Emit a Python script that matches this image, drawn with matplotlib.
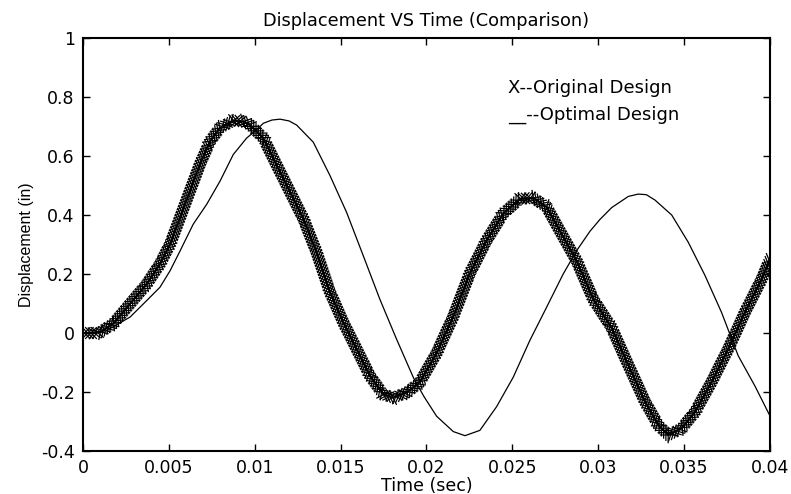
import numpy as np
import matplotlib.pyplot as plt
import matplotlib.patheffects as pe

# displacement vs time, original vs optimal design
t_orig = [0, 0.0005, 0.001, 0.00177, 0.00274, 0.00371, 0.00448, 0.00507, 0.00565, 0.00623,
          0.00681, 0.0074, 0.00798, 0.00875, 0.00933, 0.00972, 0.0105, 0.01128, 0.01205, 0.01283,
          0.0136, 0.01438, 0.01516, 0.01593, 0.01671, 0.01748, 0.01807, 0.01885, 0.0196, 0.02059,
          0.02156, 0.02253, 0.0235, 0.02447, 0.02544, 0.02622, 0.027, 0.02777, 0.02874, 0.02971,
          0.03078, 0.03175, 0.03272, 0.0335, 0.03408, 0.03486, 0.03563, 0.0366, 0.03757, 0.03854,
          0.03951, 0.04]
y_orig = [0, 0, 0.003, 0.032, 0.099, 0.166, 0.234, 0.301, 0.391, 0.482,
          0.572, 0.650, 0.696, 0.720, 0.717, 0.706, 0.661, 0.569, 0.479, 0.388,
          0.274, 0.139, 0.036, -0.054, -0.145, -0.208, -0.219, -0.202, -0.168, -0.068,
          0.056, 0.203, 0.314, 0.405, 0.455, 0.458, 0.427, 0.346, 0.245, 0.115,
          0.018, -0.108, -0.232, -0.312, -0.346, -0.323, -0.268, -0.166, -0.054, 0.070,
          0.182, 0.25]

t_opt = [0, 0.0006, 0.00138, 0.00274, 0.00371, 0.00448, 0.00507, 0.00565, 0.00642, 0.0072,
         0.00798, 0.00875, 0.00953, 0.01011, 0.0105, 0.0110, 0.01147, 0.0120, 0.01244, 0.01341,
         0.01438, 0.01535, 0.01632, 0.01729, 0.01826, 0.01923, 0.01985, 0.02059, 0.02156, 0.02224,
         0.02311, 0.02408, 0.02505, 0.02602, 0.027, 0.02796, 0.02874, 0.02952, 0.0301, 0.03078,
         0.03175, 0.03233, 0.0328, 0.0333, 0.03428, 0.03524, 0.03621, 0.03718, 0.03815, 0.03912,
         0.04]
y_opt = [0, 0, 0.009, 0.054, 0.110, 0.155, 0.211, 0.278, 0.369, 0.436,
         0.515, 0.605, 0.661, 0.689, 0.711, 0.722, 0.725, 0.719, 0.705, 0.647,
         0.534, 0.409, 0.262, 0.114, -0.021, -0.150, -0.215, -0.282, -0.334, -0.348,
         -0.330, -0.250, -0.150, -0.025, 0.088, 0.200, 0.279, 0.345, 0.385, 0.425,
         0.463, 0.471, 0.469, 0.451, 0.400, 0.308, 0.196, 0.070, -0.077, -0.179,
         -0.281]

xticks = [0, 0.005, 0.01, 0.015, 0.02, 0.025, 0.03, 0.035, 0.04]
xtick_labels = ['0', '0.005', '0.01', '0.015', '0.02', '0.025', '0.03', '0.035', '0.04']
yticks = [-0.4, -0.2, 0, 0.2, 0.4, 0.6, 0.8, 1]
ytick_labels = ['-0.4', '-0.2', '0', '0.2', '0.4', '0.6', '0.8', '1']
notes = ['X--Original Design', '__--Optimal Design']

plt.rcParams['font.family'] = ['DejaVu Sans']

fig = plt.figure(figsize=(7.91, 4.94), dpi=100)
ax = fig.add_axes([0.1049, 0.0870, 0.8685, 0.8360])

# original design: dense band of x marks along the curve
ax.plot(t_orig, y_orig, color='black', lw=1.2,
        path_effects=[pe.Normal()] + [pe.TickedStroke(spacing=2.3, angle=a, length=2.4, linewidth=0.9)
                                       for a in (45, 135, -45, -135)])
# optimal design: thin line
ax.plot(t_opt, y_opt, color='black', lw=0.9)

ax.set_xlim(0, 0.04)
ax.set_ylim(-0.4, 1)
ax.set_xticks(xticks)
ax.set_xticklabels(xtick_labels)
ax.set_yticks(yticks)
ax.set_yticklabels(ytick_labels)
ax.tick_params(direction='in', length=5, width=1, top=True, right=True, labelsize=12.5, pad=6)
for s in ax.spines.values():
    s.set_linewidth(1.5)

ax.set_title('Displacement VS Time (Comparison)', fontsize=12.8, pad=9)
ax.set_xlabel('Time (sec)', fontsize=12.5, labelpad=0)
ax.set_ylabel('Displacement (in)', fontsize=11.5, family=['Liberation Sans Narrow', 'Liberation Sans'],
              labelpad=5)

ax.text(0.619, 0.879, notes[0], transform=ax.transAxes, fontsize=13, va='center')
ax.text(0.619, 0.814, notes[1], transform=ax.transAxes, fontsize=13, va='center')

plt.savefig('out.png', dpi=100)
